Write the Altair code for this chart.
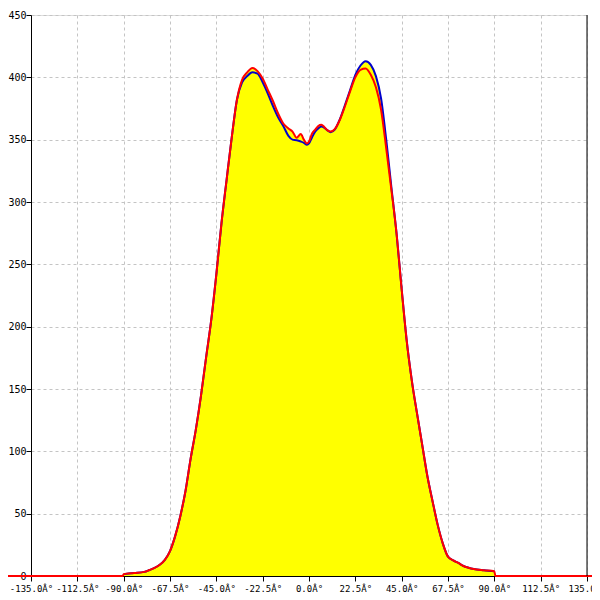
import altair as alt
import pandas as pd

deg = [-90, -85, -80, -77.5, -75, -72.5, -70, -67.5, -65, -62.5, -60, -57.5, -55, -52.5,
       -50, -47.5, -45, -42.5, -40, -37.5, -35, -32.5, -30, -27.5, -25, -22.5, -20, -17.5,
       -15, -12.5, -10, -8, -6, -4, -2.5, -1, 0, 1.5, 3, 4.5, 6, 7.5, 9, 10.5, 12.5, 15,
       17.5, 20, 22.5, 25, 27.5, 30, 32.5, 35, 37.5, 40, 42.5, 45, 47.5, 50, 52.5, 55,
       57.5, 60, 62.5, 65, 67.5, 70, 72.5, 75, 77.5, 80, 85, 90]

red = [1.5, 2.4, 3.3, 4.8, 6.5, 9, 13, 20, 32, 48, 68, 94, 117, 144,
       175, 205, 242, 283, 318, 352, 382, 398, 404, 407.5, 405, 399, 390, 381,
       371, 363, 359, 356.5, 351.5, 354.5, 350, 347, 348.5, 355, 358, 361, 362, 360, 357.5, 356.5, 358.5, 366,
       377, 389, 400, 406, 407, 402, 392, 374, 343, 310, 275, 230, 188, 156, 130, 105,
       80, 60, 41, 26, 15.5, 12.5, 10.5, 8, 6.6, 5.6, 4.6, 3.8]

blue = [1.5, 2.4, 3.3, 4.8, 6.5, 9, 13, 20, 32, 48, 68, 94, 117, 144,
        175, 205, 242, 283, 318, 352, 382, 396, 401, 404, 403, 396, 387, 377,
        368, 361, 353, 350, 349.5, 348.5, 347.5, 346, 347, 352, 356.5, 359, 360.5, 359.5, 357.5, 356, 358, 366.5,
        378, 390, 402, 409.5, 413, 410, 401, 383, 350, 312, 275, 230, 188, 156, 130, 105,
        80, 60, 41, 26, 15.5, 12.5, 10.5, 8, 6.6, 5.6, 4.6, 3.8]

fill = [1.5, 2.4, 3.3, 4.8, 6.5, 9, 13, 20, 32, 48, 68, 94, 117, 144,
        175, 205, 242, 283, 318, 352, 382, 398, 404, 407.5, 405, 399, 390, 381,
        371, 363, 359, 356.5, 351.5, 354.5, 350, 347, 348.5, 355, 358, 361, 362, 360, 357.5, 356.5, 358.5, 366.5,
        378, 390, 402, 409.5, 413, 410, 401, 383, 350, 312, 275, 230, 188, 156, 130, 105,
        80, 60, 41, 26, 15.5, 12.5, 10.5, 8, 6.6, 5.6, 4.6, 3.8]

# red baseline beyond the curve
red_left_deg = [-150, -90.5]
red_right_deg = [90.5, 150]

x_ticks = [-135, -112.5, -90, -67.5, -45, -22.5, 0, 22.5, 45, 67.5, 90, 112.5, 135]
y_ticks = [0, 50, 100, 150, 200, 250, 300, 350, 400, 450]

W, H = 556, 561

df_fill = pd.DataFrame({"deg": [-90.5] + deg + [90.5], "v": [0] + fill + [0]})
df_blue = pd.DataFrame({"deg": deg, "v": blue})
df_red = pd.DataFrame({"deg": red_left_deg + deg + red_right_deg,
                       "v": [0, 0] + red + [0, 0]})

xscale = alt.Scale(domain=[-135, 135], nice=False, zero=False)
yscale = alt.Scale(domain=[0, 450], nice=False)

xaxis = alt.Axis(values=x_ticks, title=None, grid=True, gridDash=[3, 3], gridColor="#c4c4c4",
                 domainColor="black", tickColor="black", tickSize=5, labelColor="black",
                 labelFont="DejaVu Sans Mono", labelFontSize=9, labelPadding=3,
                 labelOverlap=False, labelFlush=False,
                 labelExpr="(datum.value < 0 ? '-' : '') + format(abs(datum.value), '.1f') + 'Â°'")
yaxis = alt.Axis(values=y_ticks, title=None, grid=True, gridDash=[3, 3], gridColor="#c4c4c4",
                 domainColor="black", tickColor="black", tickSize=5, labelColor="black",
                 labelFont="DejaVu Sans Mono", labelFontSize=10, labelPadding=0, format="d",
                 labelOverlap=False, labelFlush=False)

area = alt.Chart(df_fill).mark_area(color="#ffff00", interpolate="monotone").encode(
    x=alt.X("deg:Q", scale=xscale, axis=xaxis),
    y=alt.Y("v:Q", scale=yscale, axis=yaxis),
)
bl = alt.Chart(df_blue).mark_line(color="#0000cc", strokeWidth=2, interpolate="monotone").encode(
    x=alt.X("deg:Q", scale=xscale), y=alt.Y("v:Q", scale=yscale))
rd = alt.Chart(df_red).mark_line(color="#ff0000", strokeWidth=2, interpolate="monotone", clip=False).encode(
    x=alt.X("deg:Q", scale=xscale), y=alt.Y("v:Q", scale=yscale))
border = alt.Chart(pd.DataFrame({"d": [0]})).mark_rule(color="black", strokeWidth=1).encode(
    x=alt.datum(135, scale=xscale), y=alt.value(0), y2=alt.value(H))

chart = alt.layer(area, bl, rd, border).properties(
    width=W, height=H,
    autosize=alt.AutoSizeParams(type="none"),
    padding={"left": 23, "top": 7, "right": 5, "bottom": 16},
).configure_view(stroke=None).configure(background="white")

chart.save("out.html", embed_options={"renderer": "svg", "actions": False})
